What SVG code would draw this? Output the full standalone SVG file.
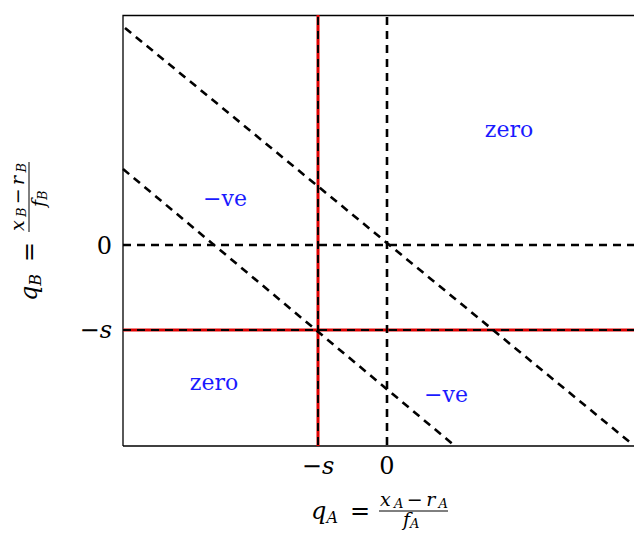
<svg xmlns="http://www.w3.org/2000/svg" width="634" height="533" viewBox="0 0 634 533">
<style>
text{font-family:"DejaVu Serif","Liberation Serif",serif;fill:#000}
.t{font-size:24px}
.i{font-style:italic}
.sub{font-size:16px}
.n{font-size:19px}
.ns{font-size:13px}
.lab{font-size:22px;fill:#1a1aff}
.dash{fill:none;stroke:#000;stroke-width:2.6;stroke-dasharray:8,6}
.red{fill:none;stroke:#e00000;stroke-width:3}
.frame{fill:none;stroke:#000;stroke-width:1.3}
</style>
<rect width="634" height="533" fill="#fff"/>
<g id="frame"><path class="frame" d="M123,446 V15.5 H634"/><path class="frame" d="M123,446 H634"/></g>
<g id="connectors">
<line class="red" x1="318" y1="15" x2="318" y2="446"/>
<line class="red" x1="123" y1="330" x2="634" y2="330"/>
<line class="dash" x1="318" y1="17" x2="318" y2="446" style="stroke-width:2"/>
<line class="dash" x1="123" y1="330" x2="634" y2="330" style="stroke-width:2"/>
<line class="dash" x1="387" y1="17" x2="387" y2="446"/>
<line class="dash" x1="123" y1="245" x2="634" y2="245"/>
<line class="dash" x1="125" y1="28" x2="632" y2="444"/>
<line class="dash" x1="123" y1="169" x2="455" y2="446"/>
</g>
<g id="regions">
<text class="lab" x="509" y="137" text-anchor="middle">zero</text>
<text class="lab" x="225" y="206" text-anchor="middle">−ve</text>
<text class="lab" x="214" y="390" text-anchor="middle">zero</text>
<text class="lab" x="446" y="402" text-anchor="middle">−ve</text>
</g>
<g id="ticks">
<text class="t" x="112" y="254" text-anchor="end">0</text>
<text class="t" x="112" y="338" text-anchor="end">−<tspan class="i">s</tspan></text>
<text class="t" x="318" y="474" text-anchor="middle">−<tspan class="i">s</tspan></text>
<text class="t" x="387" y="474" text-anchor="middle">0</text>
</g>
<g id="xlabel">
<text class="t i" x="311" y="519">q<tspan class="sub" dy="4">A</tspan></text>
<text class="t" x="350" y="519">=</text>
<text class="n i" x="380" y="506" textLength="68" lengthAdjust="spacing">x<tspan class="ns" dy="2">A</tspan><tspan class="n" dy="-2" font-style="normal">−</tspan>r<tspan class="ns" dy="2">A</tspan></text>
<line x1="379" y1="511" x2="448" y2="511" stroke="#000" stroke-width="1"/>
<text class="n i" x="403" y="526">f<tspan class="ns" dy="2">A</tspan></text>
</g>
<g id="ylabel" transform="translate(32,230) rotate(-90)">
<text class="t i" x="-71" y="5">q<tspan class="sub" dy="4">B</tspan></text>
<text class="t" x="-32" y="5">=</text>
<text class="n i" x="-1" y="-8" textLength="68" lengthAdjust="spacing">x<tspan class="ns" dy="2">B</tspan><tspan class="n" dy="-2" font-style="normal">−</tspan>r<tspan class="ns" dy="2">B</tspan></text>
<line x1="-2" y1="-3" x2="68" y2="-3" stroke="#000" stroke-width="1"/>
<text class="n i" x="23" y="13">f<tspan class="ns" dy="2">B</tspan></text>
</g>
</svg>
